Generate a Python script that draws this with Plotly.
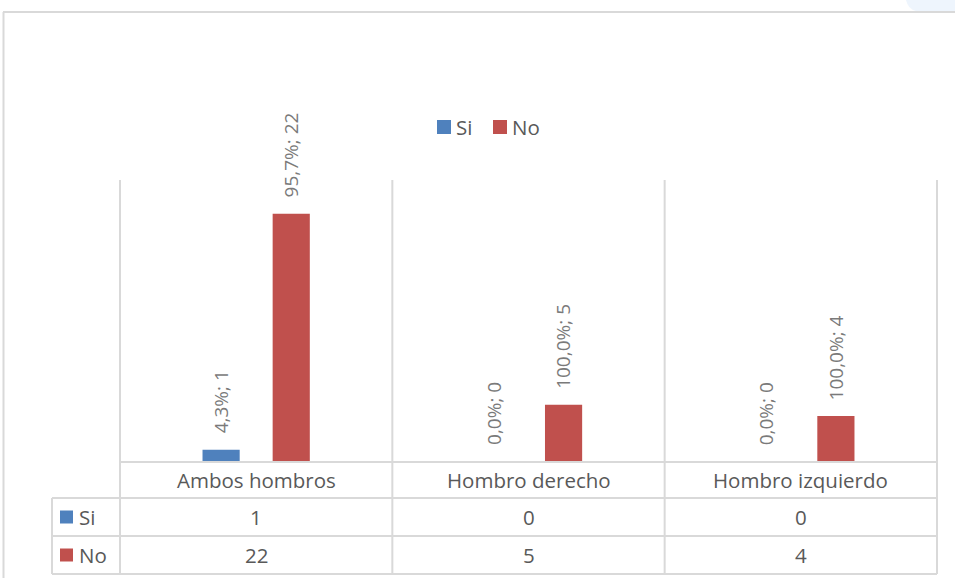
import plotly.graph_objects as go

# Data
categories = ["Ambos hombros", "Hombro derecho", "Hombro izquierdo"]
series_names = ["Si", "No"]
si_values = [1, 0, 0]
no_values = [22, 5, 4]

colors = {"Si": "#4F81BD", "No": "#C0504D"}
grid_color = "#D9D9D9"
text_color = "#595959"
label_color = "#7A7A7A"
font_family = "Open Sans, DejaVu Sans, sans-serif"

W, H = 955, 578
L, R, T, B = 120, 937, 180, 461   # plot area in pixels
BARGAP = 0.485
BARGROUPGAP = 0.47


def fx(px):
    return (px - L) / (R - L)


def fy(py):
    return (B - py) / (B - T)


def pct_label(v, total):
    p = 100.0 * v / total if total else 0.0
    return f"{p:.1f}".replace(".", ",") + f"%; {v}"


fig = go.Figure()
series = {"Si": si_values, "No": no_values}
for name in series_names:
    fig.add_trace(go.Bar(
        x=categories, y=series[name], name=name,
        marker=dict(color=colors[name], line=dict(width=0)),
        showlegend=False, hoverinfo="x+y",
    ))

totals = [s + n for s, n in zip(si_values, no_values)]
half_slot = (1 - BARGAP) / 4  # centre offset of each bar within its group

annotations = []
shapes = []

# rotated data labels above each bar
for k, name in enumerate(series_names):
    sign = -1 if k == 0 else 1
    for i, v in enumerate(series[name]):
        annotations.append(dict(
            x=i + sign * half_slot, y=v, xref="x", yref="y",
            text=pct_label(v, totals[i]), textangle=-90,
            showarrow=False, xanchor="center", yanchor="bottom", yshift=14,
            font=dict(family=font_family, size=19, color=label_color),
        ))

# data table grid
n = len(categories)
col_edges = [L + i * (R - L) / n for i in range(n + 1)]
row_lines = [498, 536, 574]
line = dict(color=grid_color, width=2)
for xe in col_edges:
    shapes.append(dict(type="line", xref="paper", yref="paper",
                       x0=fx(xe), x1=fx(xe), y0=fy(T), y1=fy(574), line=line))
shapes.append(dict(type="line", xref="paper", yref="paper",
                   x0=fx(52), x1=fx(52), y0=fy(498), y1=fy(574), line=line))
shapes.append(dict(type="line", xref="paper", yref="paper",
                   x0=fx(L), x1=fx(R), y0=fy(462), y1=fy(462), line=line))
for yr in row_lines:
    shapes.append(dict(type="line", xref="paper", yref="paper",
                       x0=fx(52), x1=fx(R), y0=fy(yr), y1=fy(yr), line=line))

# outer chart border
shapes.append(dict(type="line", xref="paper", yref="paper",
                   x0=fx(3), x1=fx(W), y0=fy(12), y1=fy(12),
                   line=dict(color=grid_color, width=2)))
shapes.append(dict(type="line", xref="paper", yref="paper",
                   x0=fx(3.5), x1=fx(3.5), y0=fy(12), y1=fy(H),
                   line=dict(color=grid_color, width=2)))
# pale tab in the top-right corner
shapes.append(dict(
    type="path", xref="paper", yref="paper",
    path=(f"M {fx(906)},{fy(0)} Q {fx(908)},{fy(9)} {fx(916)},{fy(11)} "
          f"L {fx(W)},{fy(11)} L {fx(W)},{fy(0)} Z"),
    fillcolor="#EEF5FD", line=dict(width=0), layer="below"))

table_font = dict(family=font_family, size=20.5, color=text_color)
centers = [(col_edges[i] + col_edges[i + 1]) / 2 for i in range(n)]

# header row: category names
for i, c in enumerate(categories):
    annotations.append(dict(x=fx(centers[i]), y=fy(480), xref="paper", yref="paper",
                            text=c, showarrow=False, xanchor="center", yanchor="middle",
                            font=table_font))

# value rows with legend keys
row_centers = {"Si": 517, "No": 555}
for name in series_names:
    yc = row_centers[name]
    shapes.append(dict(type="rect", xref="paper", yref="paper",
                       x0=fx(60), x1=fx(73), y0=fy(yc - 6.5), y1=fy(yc + 6.5),
                       fillcolor=colors[name], line=dict(width=0)))
    annotations.append(dict(x=fx(77), y=fy(yc), xref="paper", yref="paper",
                            text=name, showarrow=False, xanchor="left", yanchor="middle",
                            font=table_font))
    for i, v in enumerate(series[name]):
        annotations.append(dict(x=fx(centers[i]), y=fy(yc), xref="paper", yref="paper",
                                text=str(v), showarrow=False, xanchor="center",
                                yanchor="middle", font=table_font))

# legend
legend_items = [("Si", 437), ("No", 493)]
for name, x0 in legend_items:
    shapes.append(dict(type="rect", xref="paper", yref="paper",
                       x0=fx(x0), x1=fx(x0 + 14), y0=fy(134), y1=fy(120),
                       fillcolor=colors[name], line=dict(width=0)))
    annotations.append(dict(x=fx(x0 + 17), y=fy(127), xref="paper", yref="paper",
                            text=name, showarrow=False, xanchor="left", yanchor="middle",
                            font=dict(family=font_family, size=20.5, color=text_color)))

fig.update_layout(
    width=W, height=H,
    margin=dict(l=L, r=W - R, t=T, b=H - B, pad=0),
    paper_bgcolor="white", plot_bgcolor="white",
    barmode="group", bargap=BARGAP, bargroupgap=BARGROUPGAP,
    xaxis=dict(type="category", range=[-0.5, n - 0.5], showticklabels=False,
               showgrid=False, zeroline=False, showline=False, ticks=""),
    yaxis=dict(range=[0, 25], showticklabels=False, showgrid=False,
               zeroline=False, showline=False, ticks=""),
    shapes=shapes, annotations=annotations,
    showlegend=False,
)

fig.write_html("out.html")
